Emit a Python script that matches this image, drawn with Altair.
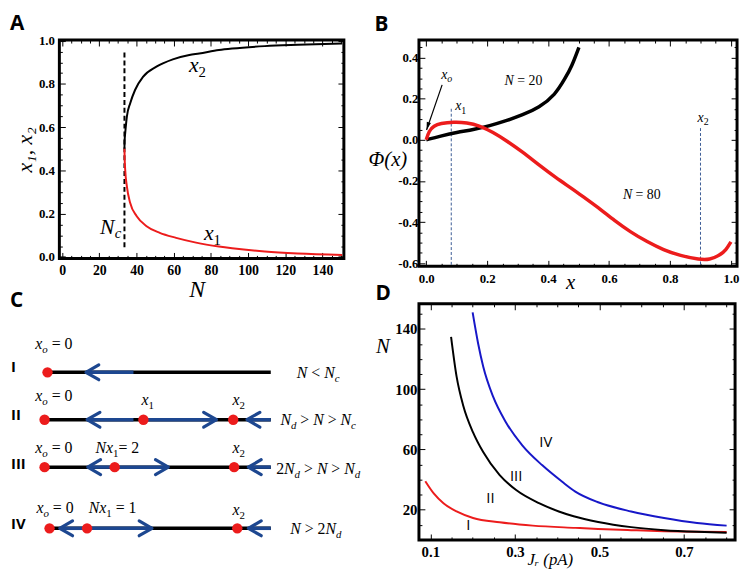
import altair as alt
import pandas as pd

# ================= Panel A : fixed points x1, x2 versus N =================
A_X2_N = [33.5, 33.6, 33.9, 34.8, 36.6, 39.2, 43.6, 50.7, 59.5, 68.4, 73.7, 84.3, 91.4, 109.0, 126.7, 150.6]
A_X2_V = [0.500, 0.540, 0.572, 0.649, 0.711, 0.772, 0.834, 0.880, 0.914, 0.934, 0.941, 0.957, 0.964, 0.975, 0.981, 0.987]
A_X1_N = [33.5, 33.6, 33.9, 34.8, 36.6, 40.1, 45.4, 52.5, 61.3, 72.0, 84.3, 91.4, 109.0, 126.7, 150.6]
A_X1_V = [0.500, 0.460, 0.403, 0.326, 0.249, 0.188, 0.142, 0.111, 0.088, 0.066, 0.048, 0.040, 0.025, 0.016, 0.009]
A_NC = [33.5]
A_NC_FROM = [0.045]
A_NC_TO = [0.945]
A_LABELS = ["x_2", "x_1", "N_c"]
A_LABEL_N = [72.8, 80.8, 26.1]
A_LABEL_V = [0.854, 0.077, 0.108]
A_XTICKS = [0, 20, 40, 60, 80, 100, 120, 140]
A_XMINOR = [v for v in range(5, 155, 5) if v % 20]
A_YTICKS = [0.0, 0.2, 0.4, 0.6, 0.8, 1.0]
A_YMINOR = [round(0.05 * i, 2) for i in range(21) if i % 4]

# ================= Panel B : potential Phi(x) =================
B_N20_X = [0.0, 0.046, 0.1, 0.154, 0.208, 0.262, 0.316, 0.37, 0.424, 0.456, 0.477, 0.501]
B_N20_V = [0.0, 0.018, 0.037, 0.049, 0.068, 0.092, 0.121, 0.156, 0.22, 0.30, 0.355, 0.45]
B_N80_X = [0.0, 0.009, 0.025, 0.046, 0.09, 0.133, 0.176, 0.219, 0.262, 0.316, 0.37, 0.424,
           0.483, 0.51, 0.564, 0.618, 0.671, 0.725, 0.779, 0.833, 0.898, 0.93, 0.962, 0.984, 1.0]
B_N80_V = [0.0, 0.044, 0.068, 0.08, 0.087, 0.084, 0.068, 0.037, -0.003, -0.059, -0.123, -0.183,
           -0.242, -0.272, -0.329, -0.393, -0.449, -0.496, -0.536, -0.563, -0.583, -0.583, -0.563, -0.536, -0.496]
B_DASH_X = [0.082, 0.9]
B_DASH_TOP = [0.151, 0.057]
B_DASH_BOTTOM = [-0.615, -0.615]
B_LABELS = ["x_o", "x_1", "x_2", "N = 20", "N = 80"]
B_LABEL_X = [0.067, 0.113, 0.9085, 0.319, 0.7074]
B_LABEL_V = [0.296, 0.143, 0.089, 0.267, -0.286]
B_ARROW_FROM = (0.052, 0.267)
B_ARROW_TO = (0.001, 0.048)
B_XTICKS = [0.0, 0.2, 0.4, 0.6, 0.8, 1.0]
B_XMINOR = [round(0.05 * i, 2) for i in range(21) if i % 4]
B_YTICKS = [-0.6, -0.4, -0.2, 0.0, 0.2, 0.4]
B_YMINOR = [round(-0.6 + 0.05 * i, 2) for i in range(22) if i % 4]

# ================= Panel C : phase-line diagrams =================
C_ROW_LEVEL = [1.0, 2.0, 3.0, 4.29]
C_LINE_START = [0.013, 0.0, 0.0, 0.022]
C_LINE_END = [1.0, 1.0, 1.0, 1.0]
C_BLUE_ROW = [1.0, 2.0, 2.0, 2.0, 3.0, 3.0, 3.0, 4.29, 4.29, 4.29]
C_BLUE_FROM = [0.183, 0.188, 0.437, 0.895, 0.191, 0.31, 0.901, 0.067, 0.188, 0.901]
C_BLUE_TO = [0.393, 0.393, 0.76, 1.0, 0.31, 0.547, 1.0, 0.188, 0.475, 1.0]
C_LEFT_ARROW_X = [0.183, 0.188, 0.895, 0.191, 0.901, 0.067, 0.901]
C_LEFT_ARROW_ROW = [1.0, 2.0, 2.0, 3.0, 3.0, 4.29, 4.29]
C_RIGHT_ARROW_X = [0.76, 0.547, 0.475]
C_RIGHT_ARROW_ROW = [2.0, 3.0, 4.29]
C_DOT_X = [0.013, 0.0, 0.437, 0.834, 0.0, 0.31, 0.838, 0.022, 0.188, 0.852]
C_DOT_ROW = [1.0, 2.0, 2.0, 2.0, 3.0, 3.0, 3.0, 4.29, 4.29, 4.29]
C_LABELS = ["x_o = 0", "N < N_c", "x_o = 0", "x_1", "x_2", "N_d > N > N_c",
            "x_o = 0", "Nx_1= 2", "x_2", "2N_d > N > N_d",
            "x_o = 0", "Nx_1 = 1", "x_2", "N > 2N_d"]
C_LABEL_X = [0.041, 1.2096, 0.041, 0.456, 0.858, 1.2096, 0.041, 0.322, 0.858, 1.2096,
             0.046, 0.301, 0.858, 1.199]
C_LABEL_ROW = [0.515, 1.125, 1.6125, 1.696, 1.696, 2.119, 2.70, 2.70, 2.70, 3.14,
               3.97, 3.97, 4.01, 4.41]
C_NUMERALS = ["I", "II", "III", "IV"]
C_NUMERAL_ROW = [0.88, 1.91, 2.93, 4.21]
C_NUMERAL_X = [-0.148, -0.148, -0.148, -0.148]

# ================= Panel D : phase diagram N vs J_r =================
D_RED_X = [0.088, 0.108, 0.131, 0.162, 0.201, 0.264, 0.342, 0.443, 0.497, 0.575, 0.653, 0.731, 0.801]
D_RED_V = [39.0, 30.9, 24.4, 18.9, 14.6, 11.7, 9.5, 8.0, 7.3, 6.5, 5.8, 5.4, 5.2]
D_BLACK_X = [0.149, 0.162, 0.178, 0.201, 0.225, 0.264, 0.303, 0.357, 0.404, 0.439, 0.497, 0.575, 0.653, 0.731, 0.801]
D_BLACK_V = [134.8, 108.5, 88.9, 71.4, 58.3, 43.0, 33.1, 24.4, 18.9, 15.7, 11.9, 8.5, 6.5, 5.4, 4.8]
D_BLUE_X = [0.2, 0.213, 0.225, 0.248, 0.279, 0.318, 0.365, 0.412, 0.443, 0.497, 0.575, 0.653, 0.731, 0.801]
D_BLUE_V = [151.0, 130.4, 115.1, 95.4, 78.0, 62.6, 49.5, 38.6, 32.1, 25.0, 18.9, 14.6, 11.3, 9.5]
D_LABELS = ["I", "II", "III", "IV"]
D_LABEL_X = [0.19, 0.242, 0.303, 0.373]
D_LABEL_V = [10.2, 27.7, 42.6, 64.9]
D_XTICKS = [0.1, 0.3, 0.5, 0.7]
D_XMINOR = [0.15, 0.2, 0.25, 0.35, 0.4, 0.45, 0.55, 0.6, 0.65, 0.75, 0.8]
D_YTICKS = [20, 60, 100, 140]
D_YMINOR = [10, 30, 40, 50, 70, 80, 90, 110, 120, 130, 150]

# ================= styling =================
RED = "#ec1c1c"
DBLUE = "#1717c8"
NAVY = "#1d4790"
DASHBLUE = "#3b5b95"
SERIF = "Liberation Serif"
SANS = "Open Sans"

ITAL = {"N": 0.667, "x": 0.444, "o": 0.5, "d": 0.5, "c": 0.444, "r": 0.389, "p": 0.5, "A": 0.611, "J": 0.444}
ROMAN = {" ": 0.25, "=": 0.564, "<": 0.564, ">": 0.564, "(": 0.333, ")": 0.333, ",": 0.25}

AX = dict(domain=False, grid=False, tickColor="black", tickWidth=1, labelColor="black",
          labelFont=SERIF, labelFontWeight="bold", labelFlush=False, labelOverlap=False,
          titleFont=SERIF, titleColor="black", titleFontWeight="normal", titleFontStyle="italic")


def segments(markup, fs, sfs, sdy):
    chars, i = [], 0
    while i < len(markup):
        if markup[i] == "_":
            chars.append((markup[i + 1], True))
            i += 2
        else:
            chars.append((markup[i], False))
            i += 1
    runs = []
    for ch, sub in chars:
        key = (sub, ch.isalpha())
        if runs and runs[-1][0] == key:
            runs[-1][1] += ch
        else:
            runs.append([key, ch])
    pos, out = 0.0, []
    for (sub, ital), txt in runs:
        size = sfs if sub else fs
        table = ITAL if ital else ROMAN
        lead = len(txt) - len(txt.lstrip(" "))
        start = pos + lead * 0.25 * size
        pos += sum(table.get(c, 0.5) for c in txt) * size
        if txt.strip():
            out.append((txt.strip(), start, sdy if sub else 0, size, ital))
    return [(t, round(s - pos / 2, 1), dy, size, it) for t, s, dy, size, it in out]


def text_layers(labels, xs_vals, ys_vals, xsc, ysc, fs, sfs, sdy):
    groups = {}
    for m, xv, yv in zip(labels, xs_vals, ys_vals):
        for t, dx, dy, size, it in segments(m, fs, sfs, sdy):
            groups.setdefault((dx, dy, size, it), []).append({"x": xv, "y": yv, "t": t})
    layers = []
    for (dx, dy, size, it), rows in groups.items():
        layers.append(
            alt.Chart(pd.DataFrame(rows)).mark_text(
                align="left", baseline="alphabetic", dx=dx, dy=dy, fontSize=size, font=SERIF,
                fontStyle="italic" if it else "normal", color="black"
            ).encode(x=alt.X("x:Q", scale=xsc, axis=None), y=alt.Y("y:Q", scale=ysc, axis=None), text="t:N")
        )
    return layers


def frame_axes(xsc, ysc, x0, y0, xmaj, xmin, ymaj, ymin, L, l, xlab, ylab):
    d = pd.DataFrame({"x": [x0], "y": [y0]})

    def lay(xax, yax):
        return alt.Chart(d).mark_point(opacity=0).encode(
            x=alt.X("x:Q", scale=xsc, axis=xax), y=alt.Y("y:Q", scale=ysc, axis=yax))

    def tick(orient, vals, n):
        return alt.Axis(orient=orient, values=vals, tickSize=n, offset=-n, labels=False, title=None, **AX)

    return [
        lay(alt.Axis(orient="bottom", values=xmaj, tickSize=L, offset=-L, **{**AX, **xlab}),
            alt.Axis(orient="left", values=ymaj, tickSize=L, offset=-L, **{**AX, **ylab})),
        lay(tick("bottom", xmin, l), tick("left", ymin, l)),
        lay(tick("top", xmaj, L), tick("right", ymaj, L)),
        lay(tick("top", xmin, l), tick("right", ymin, l)),
    ]


def panel_title(letter, dx, offset):
    return alt.TitleParams(text=letter, anchor="start", frame="group", dx=dx, offset=offset,
                           font=SANS, fontSize=21, fontWeight="bold", color="black")


FRAME = alt.ViewBackground(stroke="black", strokeWidth=3)

# ---------------- Panel A ----------------
xsA = alt.Scale(domain=[-1.5, 151.5], nice=False, zero=False)
ysA = alt.Scale(domain=[-0.007, 1.003], nice=False, zero=False)
axA = frame_axes(
    xsA, ysA, -1.5, -0.007, A_XTICKS, A_XMINOR, A_YTICKS, A_YMINOR, 6, 3,
    dict(format="d", labelFontSize=14, labelPadding=5, title="N", titleFontSize=24,
         titleX=139, titleY=38, titleAlign="center", titleBaseline="middle"),
    dict(format=".1f", labelFontSize=13, labelPadding=5, title="x₁,  x₂", titleFontSize=22,
         titleAngle=270, titleX=-41, titleY=110.7, titleAlign="center", titleBaseline="middle"))
a_x2 = alt.Chart(pd.DataFrame({"N": A_X2_N, "v": A_X2_V})).mark_line(
    color="black", strokeWidth=2, interpolate="monotone").encode(
    x=alt.X("N:Q", scale=xsA, axis=None), y=alt.Y("v:Q", scale=ysA, axis=None))
a_x1 = alt.Chart(pd.DataFrame({"N": A_X1_N, "v": A_X1_V})).mark_line(
    color=RED, strokeWidth=2, interpolate="monotone").encode(
    x=alt.X("N:Q", scale=xsA, axis=None), y=alt.Y("v:Q", scale=ysA, axis=None))
a_nc = alt.Chart(pd.DataFrame({"N": A_NC, "a": A_NC_FROM, "b": A_NC_TO})).mark_rule(
    color="black", strokeWidth=2, strokeDash=[5, 3]).encode(
    x=alt.X("N:Q", scale=xsA, axis=None), y=alt.Y("a:Q", scale=ysA, axis=None), y2="b:Q")
A = alt.layer(*axA, a_nc, a_x2, a_x1,
              *text_layers(A_LABELS, A_LABEL_N, A_LABEL_V, xsA, ysA, 22, 15, 5)
              ).resolve_axis(x="independent", y="independent").properties(
    width=288, height=221, view=FRAME, title=panel_title("A", -50, 1))

# ---------------- Panel B ----------------
xsB = alt.Scale(domain=[-0.024, 1.02], nice=False, zero=False)
ysB = alt.Scale(domain=[-0.615, 0.485], nice=False, zero=False)
axB = frame_axes(
    xsB, ysB, -0.024, -0.615, B_XTICKS, B_XMINOR, B_YTICKS, B_YMINOR, 6, 3,
    dict(format=".1f", labelFontSize=13, labelPadding=6, title="x", titleFontSize=21,
         titleX=153, titleY=22, titleAlign="center", titleBaseline="middle"),
    dict(labelExpr="datum.value < 0 ? '-' + format(-datum.value, '.1f') : format(datum.value, '.1f')",
         labelFontSize=13, labelPadding=1, title="Φ(x)", titleFontSize=21, titleAngle=0,
         titleX=-38, titleY=120.7, titleAlign="center", titleBaseline="middle"))
b_dash = alt.Chart(pd.DataFrame({"x": B_DASH_X, "a": B_DASH_TOP, "b": B_DASH_BOTTOM})).mark_rule(
    color=DASHBLUE, strokeWidth=1, strokeDash=[3, 2]).encode(
    x=alt.X("x:Q", scale=xsB, axis=None), y=alt.Y("a:Q", scale=ysB, axis=None), y2="b:Q")
b_n20 = alt.Chart(pd.DataFrame({"x": B_N20_X, "v": B_N20_V})).mark_line(
    color="black", strokeWidth=3.5, interpolate="basis").encode(
    x=alt.X("x:Q", scale=xsB, axis=None), y=alt.Y("v:Q", scale=ysB, axis=None))
b_n80 = alt.Chart(pd.DataFrame({"x": B_N80_X, "v": B_N80_V})).mark_line(
    color=RED, strokeWidth=3.5, interpolate="basis").encode(
    x=alt.X("x:Q", scale=xsB, axis=None), y=alt.Y("v:Q", scale=ysB, axis=None))
arr = pd.DataFrame({"x": [B_ARROW_FROM[0]], "y": [B_ARROW_FROM[1]],
                    "x2": [B_ARROW_TO[0]], "y2": [B_ARROW_TO[1]]})
b_arrow_line = alt.Chart(arr).mark_rule(color="black", strokeWidth=1.2).encode(
    x=alt.X("x:Q", scale=xsB, axis=None), y=alt.Y("y:Q", scale=ysB, axis=None), x2="x2:Q", y2="y2:Q")
b_arrow_head = alt.Chart(arr).mark_point(
    shape="M0,0L-0.55,2L0.55,2Z", filled=True, color="black", size=64, angle=197, opacity=1).encode(
    x=alt.X("x2:Q", scale=xsB, axis=None), y=alt.Y("y2:Q", scale=ysB, axis=None))
B = alt.layer(*axB, b_dash, b_n20, b_n80, b_arrow_line, b_arrow_head,
              *text_layers(B_LABELS, B_LABEL_X, B_LABEL_V, xsB, ysB, 14, 10, 3.5)
              ).resolve_axis(x="independent", y="independent").properties(
    width=322, height=229, view=FRAME, title=panel_title("B", -45, 5))

# ---------------- Panel C ----------------
xsC = alt.Scale(domain=[0.0655, 1.4367], nice=False, zero=False)
ysC = alt.Scale(domain=[-0.444, 4.535], nice=False, zero=False, reverse=True)
cX = lambda f: alt.X(f, scale=xsC, axis=None)
cY = lambda f: alt.Y(f, scale=ysC, axis=None)
c_base = alt.Chart(pd.DataFrame({"a": C_LINE_START, "b": C_LINE_END, "r": C_ROW_LEVEL})).mark_rule(
    color="black", strokeWidth=3.5).encode(x=cX("a:Q"), x2="b:Q", y=cY("r:Q"))
c_blue = alt.Chart(pd.DataFrame({"a": C_BLUE_FROM, "b": C_BLUE_TO, "r": C_BLUE_ROW})).mark_rule(
    color=NAVY, strokeWidth=3.5).encode(x=cX("a:Q"), x2="b:Q", y=cY("r:Q"))
c_left = alt.Chart(pd.DataFrame({"a": C_LEFT_ARROW_X, "r": C_LEFT_ARROW_ROW})).mark_point(
    shape="M1.73,-1L0,0L1.73,1", filled=False, color=NAVY, strokeWidth=3.2, size=225, opacity=1,
    strokeJoin="round", strokeCap="round").encode(x=cX("a:Q"), y=cY("r:Q"))
c_right = alt.Chart(pd.DataFrame({"a": C_RIGHT_ARROW_X, "r": C_RIGHT_ARROW_ROW})).mark_point(
    shape="M-1.73,-1L0,0L-1.73,1", filled=False, color=NAVY, strokeWidth=3.2, size=225, opacity=1,
    strokeJoin="round", strokeCap="round").encode(x=cX("a:Q"), y=cY("r:Q"))
c_dots = alt.Chart(pd.DataFrame({"a": C_DOT_X, "r": C_DOT_ROW})).mark_circle(
    color=RED, size=110, opacity=1).encode(x=cX("a:Q"), y=cY("r:Q"))
c_num = alt.Chart(pd.DataFrame({"a": C_NUMERAL_X, "r": C_NUMERAL_ROW, "t": C_NUMERALS})).mark_text(
    align="left", baseline="middle", font=SANS, fontWeight="bold", fontSize=15, color="black").encode(
    x=cX("a:Q"), y=cY("r:Q"), text="t:N")
C = alt.layer(c_base, c_blue, c_left, c_right, c_dots, c_num,
              *text_layers(C_LABELS, C_LABEL_X, C_LABEL_ROW, xsC, ysC, 16, 11, 4)
              ).properties(width=314, height=239, view=alt.ViewBackground(stroke="transparent"),
                           title=panel_title("C", -50, -7.5))

# ---------------- Panel D ----------------
xsD = alt.Scale(domain=[0.073, 0.821], nice=False, zero=False)
ysD = alt.Scale(domain=[0.0, 156.7], nice=False, zero=False)
axD = frame_axes(
    xsD, ysD, 0.073, 0.0, D_XTICKS, D_XMINOR, D_YTICKS, D_YMINOR, 6, 3,
    dict(format=".1f", labelFontSize=15, labelPadding=5, title="Jᵣ (pA)", titleFontSize=17,
         titleX=132.5, titleY=26, titleAlign="center", titleBaseline="middle"),
    dict(format="d", labelFontSize=15, labelPadding=2, title="N", titleFontSize=21, titleAngle=0,
         titleX=-43, titleY=43.7, titleAlign="center", titleBaseline="middle"))
d_lines = []
for xv, yv, col in [(D_RED_X, D_RED_V, RED), (D_BLACK_X, D_BLACK_V, "black"), (D_BLUE_X, D_BLUE_V, DBLUE)]:
    d_lines.append(alt.Chart(pd.DataFrame({"x": xv, "v": yv})).mark_line(
        color=col, strokeWidth=2, interpolate="monotone").encode(
        x=alt.X("x:Q", scale=xsD, axis=None), y=alt.Y("v:Q", scale=ysD, axis=None)))
d_text = alt.Chart(pd.DataFrame({"x": D_LABEL_X, "v": D_LABEL_V, "t": D_LABELS})).mark_text(
    font=SANS, fontSize=15, color="black", baseline="middle").encode(
    x=alt.X("x:Q", scale=xsD, axis=None), y=alt.Y("v:Q", scale=ysD, axis=None), text="t:N")
D = alt.layer(*axD, *d_lines, d_text).resolve_axis(x="independent", y="independent").properties(
    width=320, height=239, view=FRAME, title=panel_title("D", -44, -1))

chart = alt.concat(A, B, C, D, columns=2, spacing={"row": 38, "column": 50}, bounds="flush").properties(
    padding=0, background="white").configure_view(stroke="black", strokeWidth=3)

chart.save("out.html", embed_options={"renderer": "svg", "actions": False})
